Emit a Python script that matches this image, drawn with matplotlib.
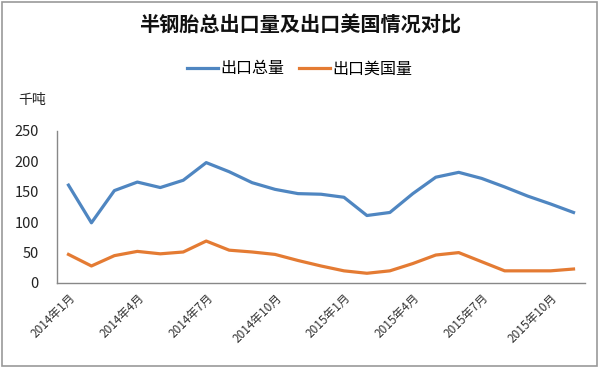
import numpy as np
import matplotlib
matplotlib.use("Agg")
import matplotlib.pyplot as plt
from matplotlib.patches import Rectangle

plt.rcParams['font.family'] = ['Noto Sans CJK SC', 'DejaVu Sans']

# 2014-01 .. 2015-11, monthly
months = [f"2014年{m}月" for m in range(1, 13)] + [f"2015年{m}月" for m in range(1, 12)]
total_export = [161, 99, 152, 166, 157, 169, 198, 183, 165, 154, 147, 146,
                141, 111, 116, 147, 174, 182, 172, 158, 143, 130, 116]
us_export = [47, 28, 45, 52, 48, 51, 69, 54, 51, 47, 37, 28,
             20, 16, 20, 32, 46, 50, 35, 20, 20, 20, 23]
series_names = ["出口总量", "出口美国量"]
colors = ["#4F86C1", "#E47B33"]
y_ticks = [0, 50, 100, 150, 200, 250]

fig = plt.figure(figsize=(6, 3.7), dpi=100)
ax = fig.add_axes([57 / 600, 1 - 283 / 370, (585 - 57) / 600, (283 - 131) / 370])

x = np.arange(len(months))
ax.plot(x, total_export, color=colors[0], lw=2.3, label=series_names[0], solid_joinstyle='round')
ax.plot(x, us_export, color=colors[1], lw=2.3, label=series_names[1], solid_joinstyle='round')

ax.set_xlim(-0.5, len(months) - 0.5)
ax.set_ylim(0, 250)
ax.set_yticks(y_ticks)
ax.tick_params(axis='y', length=0, labelsize=10.5, pad=13, colors='#222222')
ax.set_xticks(x[::3])
ax.set_xticklabels(months[::3], rotation=45, ha='right', rotation_mode='anchor',
                   fontsize=8.5, color='#333333')
ax.tick_params(axis='x', length=0, pad=6)

for s in ['top', 'right']:
    ax.spines[s].set_visible(False)
for s in ['left', 'bottom']:
    ax.spines[s].set_color('#888888')
    ax.spines[s].set_linewidth(1.0)

fig.text(0.5, 1 - 25 / 370, "半钢胎总出口量及出口美国情况对比", ha='center', va='center',
         fontsize=14.5, fontweight='bold', color='#111111')
fig.text(18 / 600, 1 - 100 / 370, "千吨", ha='left', va='center', fontsize=10, color='#222222')
fig.legend(loc='center', bbox_to_anchor=(0.5, 1 - 69 / 370), ncol=2, frameon=False,
           fontsize=11.5, handlelength=1.9, handletextpad=0.2, columnspacing=0.9)

fig.patches.append(Rectangle((2 / 600, 4 / 370), 595 / 600, 364 / 370, transform=fig.transFigure,
                             fill=False, edgecolor='#999999', lw=1.2))

fig.savefig("out.png", dpi=100)
